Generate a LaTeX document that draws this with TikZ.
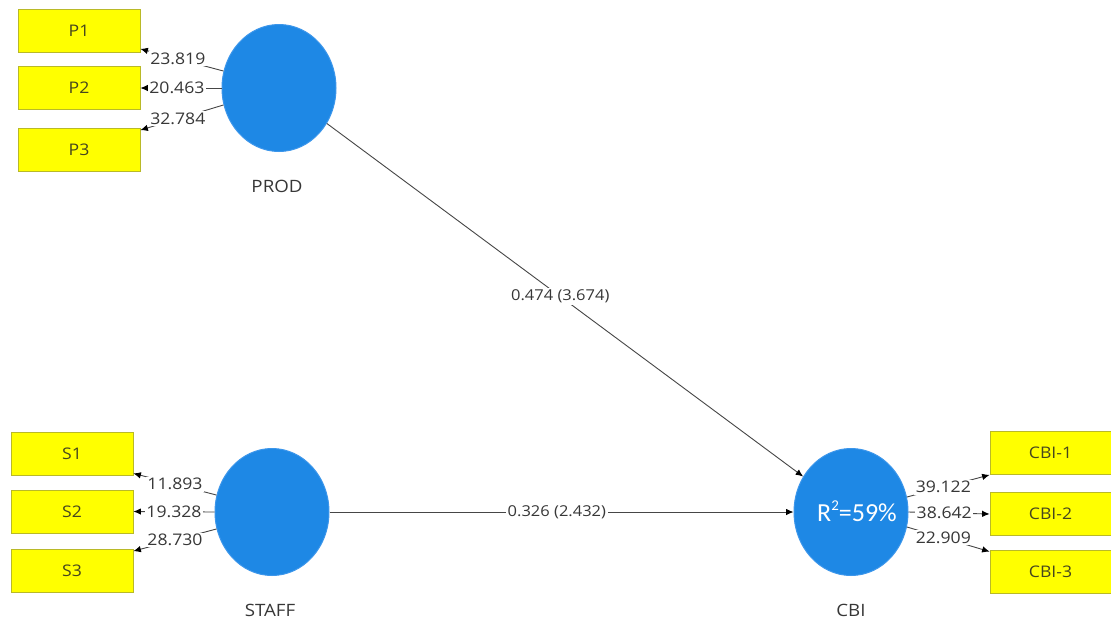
\documentclass[tikz,border=0pt]{standalone}
\usepackage{fontspec}
\setmainfont{Open Sans}[FakeStretch=1.1]
\newfontfamily\rfont{Carlito}
\usetikzlibrary{shapes.geometric,arrows.meta}
\definecolor{lvblue}{RGB}{30,136,229}
\definecolor{lvedge}{RGB}{60,150,235}
\definecolor{boxfill}{RGB}{255,255,0}
\definecolor{boxedge}{RGB}{185,185,40}
\definecolor{boxtext}{RGB}{70,70,30}
\definecolor{numgray}{RGB}{55,55,55}
\definecolor{linegray}{RGB}{70,70,70}
\begin{document}
\begin{tikzpicture}[x=1pt,y=-1pt,
  ind/.style={draw=boxedge, fill=boxfill, line width=0.8pt, minimum width=122pt, minimum height=43pt, inner sep=0pt, font=\fontsize{16}{18}\selectfont, text=boxtext},
  lv/.style={ellipse, draw=lvedge, fill=lvblue, line width=1pt, minimum width=114pt, minimum height=127pt, inner sep=0pt},
  conn/.style={draw=linegray, line width=0.9pt, -{Latex[length=7.5pt,width=6.5pt,color=black]}},
  num/.style={fill=white, inner sep=1.5pt, font=\fontsize{16}{18}\selectfont, text=numgray},
  pnum/.style={fill=white, inner sep=2pt, font=\fontsize{15}{17}\selectfont, text=numgray},
  lvname/.style={font=\fontsize{17}{19}\selectfont, text=numgray}]
\useasboundingbox (0,0) rectangle (1111,625);
\fill[white] (0,0) rectangle (1111,625);

% indicator boxes
\node[ind] (P1) at (79,31) {P1};
\node[ind] (P2) at (79,88) {P2};
\node[ind] (P3) at (79,150) {P3};
\node[ind] (S1) at (72,453.5) {S1};
\node[ind] (S2) at (72,511.5) {S2};
\node[ind] (S3) at (72,571) {S3};
\node[ind, minimum width=121pt] (C1) at (1050.5,453) {CBI-1};
\node[ind, minimum width=121pt] (C2) at (1050.5,514) {CBI-2};
\node[ind, minimum width=121pt] (C3) at (1050.5,571.5) {CBI-3};

% latent variables
\node[lv] (PROD) at (279,88) {};
\node[lv] (STAFF) at (272,512) {};
\node[lv] (CBI) at (851,512) {};
\node[text=white, font=\rfont\fontsize{26}{28}\selectfont, inner sep=0pt] (r2) at ([xshift=6pt,yshift=1pt]CBI.center) {R\raisebox{0.42em}{\fontsize{15}{15}\selectfont 2}=59\%};

\node[lvname] (nPROD) at (277,186) {PROD};
\node[lvname] (nSTAFF) at (270,610) {STAFF};
\node[lvname] (nCBI) at (851,610) {CBI};

% outer loadings
\coordinate (tP1) at ([yshift=4pt]P1.south east);
\coordinate (tP3) at ([yshift=-2pt]P3.north east);
\coordinate (tS1) at ([yshift=2pt]S1.south east);
\coordinate (tS3) at ([yshift=-2pt]S3.north east);
\coordinate (tC1) at (C1.south west);
\coordinate (tC3) at ([yshift=-2pt]C3.north west);

\draw[conn] (PROD.163) -- node[num, pos=0.55] {23.819} (tP1);
\draw[conn] (PROD.180) -- node[num, pos=0.55] {20.463} (P2.east);
\draw[conn] (PROD.197) -- node[num, pos=0.55] {32.784} (tP3);

\draw[conn] (STAFF.163) -- node[num, pos=0.5] {11.893} (tS1);
\draw[conn] (STAFF.180) -- node[num, pos=0.5] {19.328} (S2.east);
\draw[conn] (STAFF.197) -- node[num, pos=0.5] {28.730} (tS3);

\draw[conn] (CBI.15) -- node[num, pos=0.44] {39.122} (tC1);
\draw[conn] (CBI.0) -- node[num, pos=0.44] {38.642} (C2.west);
\draw[conn] (CBI.-15) -- node[num, pos=0.44] {22.909} (tC3);

% structural paths
\draw[conn] (PROD) -- node[pnum, pos=0.49] {0.474 (3.674)} (CBI);
\draw[conn] (STAFF.east) -- node[pnum, pos=0.49] {0.326 (2.432)} (CBI.west);
\end{tikzpicture}
\end{document}
